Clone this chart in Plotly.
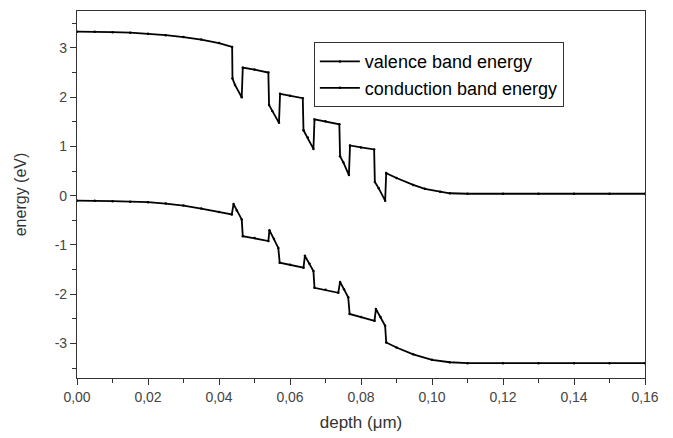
import plotly.graph_objects as go

# depth (um) and energies (eV)
cb_x = [0.000, 0.005, 0.010, 0.015, 0.020, 0.025, 0.030, 0.035, 0.040, 0.0437,
        0.0438, 0.0445, 0.0464, 0.0467, 0.0500, 0.0539, 0.0541, 0.0550, 0.0569,
        0.0572, 0.0600, 0.0636, 0.0638, 0.0650, 0.0666, 0.0669, 0.0700, 0.0739,
        0.0741, 0.0750, 0.0766, 0.0769, 0.0800, 0.0837, 0.0839, 0.0850, 0.0868,
        0.0871, 0.0900, 0.0947, 0.0980, 0.1023, 0.1050, 0.1100, 0.1200, 0.1300,
        0.1400, 0.1500, 0.1600]
cb_y = [3.33, 3.33, 3.32, 3.31, 3.29, 3.26, 3.22, 3.17, 3.10, 3.02,
        2.38, 2.25, 2.00, 2.60, 2.56, 2.50, 1.84, 1.72, 1.48,
        2.07, 2.03, 1.98, 1.33, 1.18, 0.95, 1.55, 1.51, 1.45,
        0.80, 0.68, 0.42, 1.02, 0.98, 0.94, 0.28, 0.15, -0.10,
        0.46, 0.36, 0.22, 0.14, 0.08, 0.05, 0.04, 0.04, 0.04,
        0.04, 0.04, 0.04]

vb_x = [0.000, 0.005, 0.010, 0.015, 0.020, 0.025, 0.030, 0.035, 0.040, 0.0436,
        0.0441, 0.0450, 0.0464, 0.0467, 0.0500, 0.0539, 0.0542, 0.0555, 0.0567,
        0.0571, 0.0600, 0.0638, 0.0642, 0.0655, 0.0666, 0.0669, 0.0700, 0.0736,
        0.0741, 0.0752, 0.0764, 0.0768, 0.0800, 0.0838, 0.0842, 0.0855, 0.0868,
        0.0871, 0.0900, 0.0947, 0.1000, 0.1050, 0.1100, 0.1200, 0.1300, 0.1400,
        0.1500, 0.1600]
vb_y = [-0.10, -0.10, -0.11, -0.12, -0.13, -0.16, -0.20, -0.26, -0.33, -0.38,
        -0.17, -0.30, -0.48, -0.82, -0.86, -0.92, -0.70, -0.88, -1.06,
        -1.36, -1.40, -1.46, -1.22, -1.38, -1.53, -1.87, -1.91, -1.97,
        -1.75, -1.90, -2.06, -2.40, -2.46, -2.54, -2.30, -2.46, -2.64,
        -2.98, -3.08, -3.22, -3.33, -3.38, -3.40, -3.40, -3.40, -3.40,
        -3.40, -3.40]

series_names = ["valence band energy", "conduction band energy"]

x_tickvals = [0.00, 0.02, 0.04, 0.06, 0.08, 0.10, 0.12, 0.14, 0.16]
x_ticktext = ["0,00", "0,02", "0,04", "0,06", "0,08", "0,10", "0,12", "0,14", "0,16"]
y_tickvals = [-3, -2, -1, 0, 1, 2, 3]
y_ticktext = ["-3", "-2", "-1", "0", "1", "2", "3"]

FONT = "Liberation Sans, Arial, sans-serif"

fig = go.Figure()
fig.add_trace(go.Scatter(x=vb_x, y=vb_y, name=series_names[0], mode="lines+markers",
                         line=dict(color="black", width=1.8),
                         marker=dict(color="black", size=2.5)))
fig.add_trace(go.Scatter(x=cb_x, y=cb_y, name=series_names[1], mode="lines+markers",
                         line=dict(color="black", width=1.8),
                         marker=dict(color="black", size=2.5)))

axis_common = dict(showgrid=False, zeroline=False, showline=True, linecolor="#333",
                   linewidth=1.2, mirror=True, ticks="outside", ticklen=6,
                   tickcolor="#333", tickwidth=1.2, automargin=False,
                   tickfont=dict(family=FONT, size=14, color="#444"))

fig.update_layout(
    width=673, height=438,
    paper_bgcolor="white", plot_bgcolor="white",
    margin=dict(l=77, r=28, t=11, b=60),
    showlegend=True,
    legend=dict(x=0.417, y=0.915, xanchor="left", yanchor="top",
                bordercolor="#333", borderwidth=1, bgcolor="white",
                font=dict(family=FONT, size=18, color="black"),
                tracegroupgap=0, itemwidth=40),
    xaxis=dict(range=[0, 0.16], tickvals=x_tickvals, ticktext=x_ticktext,
               minor=dict(dtick=0.01, ticks="outside", ticklen=4, tickcolor="#333"),
               title=dict(text="depth (\u03bcm)", font=dict(family=FONT, size=17, color="#333"),
                          standoff=12),
               **axis_common),
    yaxis=dict(range=[-3.7, 3.75], tickvals=y_tickvals, ticktext=y_ticktext,
               minor=dict(dtick=0.5, ticks="outside", ticklen=4, tickcolor="#333"),
               title=dict(text="energy (eV)", font=dict(family=FONT, size=16, color="#333"),
                          standoff=24),
               **axis_common),
)

fig.write_html("out.html", config={"displayModeBar": False},
               post_script="document.body.style.margin='0';")
